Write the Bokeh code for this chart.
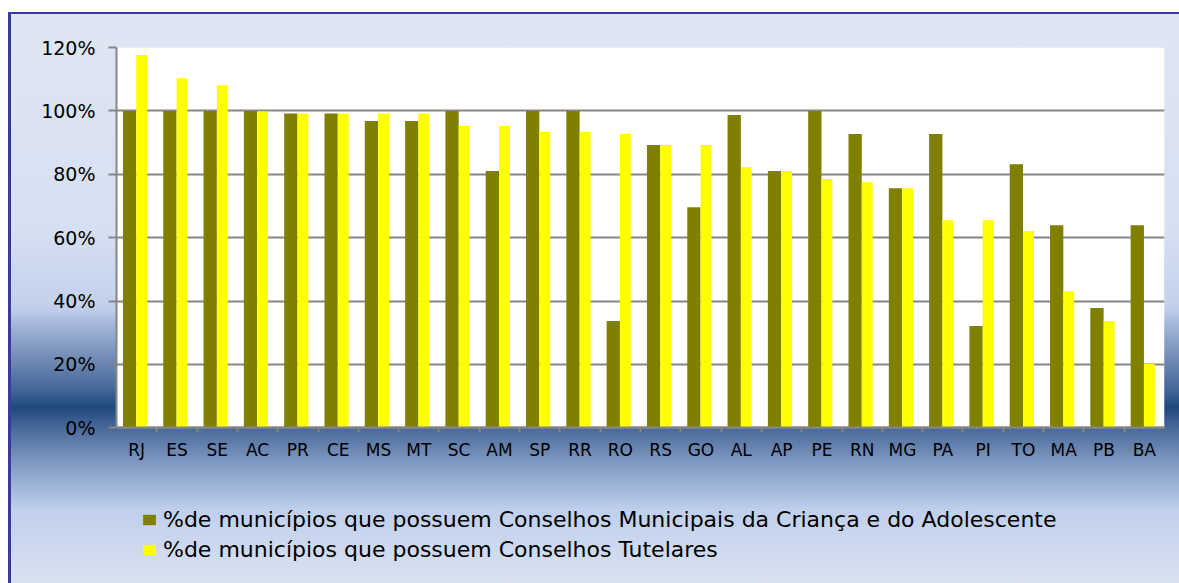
from bokeh.plotting import figure
from bokeh.models import (FactorRange, Range1d, CategoricalAxis, FixedTicker, BoxAnnotation,
                          PrintfTickFormatter, Legend, LegendItem, ColumnDataSource)
from bokeh.transform import dodge
from bokeh.embed import file_html
from bokeh.resources import INLINE

# ---------------- data ----------------
states = ["RJ", "ES", "SE", "AC", "PR", "CE", "MS", "MT", "SC", "AM", "SP", "RR", "RO",
          "RS", "GO", "AL", "AP", "PE", "RN", "MG", "PA", "PI", "TO", "MA", "PB", "BA"]
conselhos_municipais = [100, 100, 100, 100, 99.2, 99.2, 96.8, 96.8, 100, 81.0, 100, 100, 33.7,
                        89.2, 69.6, 98.7, 81.0, 100, 92.7, 75.6, 92.7, 32.1, 83.2, 63.9, 37.8, 63.9]
conselhos_tutelares = [117.6, 110.3, 108.1, 99.7, 99.2, 99.2, 99.2, 99.2, 95.2, 95.2, 93.3, 93.3, 92.7,
                       89.2, 89.2, 82.2, 81.0, 78.5, 77.5, 75.6, 65.5, 65.5, 62.1, 43.1, 33.7, 20.1]
y_ticks = [0, 20, 40, 60, 80, 100, 120]
label_cmdca = "%de municípios que possuem Conselhos Municipais da Criança e do Adolescente"
label_ct = "%de municípios que possuem Conselhos Tutelares"

source = ColumnDataSource(data=dict(state=states, cmdca=conselhos_municipais, ct=conselhos_tutelares))

FONT = "DejaVu Sans"
GRAY = "#868686"

# the frame extends below 0 so that the axes labels and the legend sit inside it
p = figure(x_range=FactorRange(factors=states), y_range=Range1d(-46.6, 120),
           width=1171, height=571, output_backend="svg", toolbar_location=None,
           x_axis_location=None,
           min_border_left=108, min_border_right=15, min_border_top=35, min_border_bottom=8,
           background_fill_alpha=0, border_fill_alpha=0, outline_line_color=None)
p.margin = (12, 0, 0, 8)
p.styles = {
    "background-image": "linear-gradient(to bottom, #dfe6f3 0%, #d7e0f2 38%, #c3d1ec 51%, "
                        "#bccbe9 52.5%, #a9bade 54.2%, #7890b8 60%, #46689a 65.9%, #1f497d 69.3%, "
                        "#4a6a9a 73%, #7a94bd 78.3%, #a9bde0 84.4%, #c0cfec 87.2%, #dae2f1 100%)",
    "box-shadow": "inset 3px 2px 0 0 #3a3a9e",
}

# white plot area from 0% to 120%
p.add_layout(BoxAnnotation(bottom=0, top=120, fill_color="white", fill_alpha=1,
                           line_color=None, level="image"))

r1 = p.vbar(x=dodge("state", -0.175, range=p.x_range), top="cmdca", width=0.33, bottom=0,
            source=source, fill_color="#808000", line_color=None)
r2 = p.vbar(x=dodge("state", 0.125, range=p.x_range), top="ct", width=0.27, bottom=0,
            source=source, fill_color="#FFFF00", line_color=None)

# y axis
p.yaxis.ticker = FixedTicker(ticks=y_ticks)
p.yaxis.bounds = (0, 120)
p.yaxis.formatter = PrintfTickFormatter(format="%d%%")
p.yaxis.major_label_text_font = FONT
p.yaxis.major_label_text_font_size = "19px"
p.yaxis.major_label_text_color = "#000000"
p.yaxis.axis_line_color = GRAY
p.yaxis.axis_line_width = 2
p.yaxis.major_tick_line_color = GRAY
p.yaxis.major_tick_line_width = 2
p.yaxis.major_tick_out = 8
p.yaxis.major_tick_in = 0
p.yaxis.minor_tick_line_color = None
p.yaxis.major_label_standoff = 13

p.ygrid.ticker = FixedTicker(ticks=y_ticks)
p.ygrid.grid_line_color = GRAY
p.ygrid.grid_line_width = 2
p.xgrid.visible = False

# x axis at 0%: ticks at the category boundaries (helper range shifted by half a category)
edge_names = ["|%d" % i for i in range(len(states) + 1)]
p.extra_x_ranges = {"edges": FactorRange(factors=edge_names, range_padding=-0.5,
                                         range_padding_units="absolute")}
tick_axis = CategoricalAxis(x_range_name="edges", fixed_location=0,
                            major_label_text_font_size="0px", major_label_text_alpha=0,
                            major_label_standoff=0, major_tick_out=5, major_tick_in=0,
                            major_tick_line_color=GRAY, major_tick_line_width=2,
                            axis_line_color=GRAY, axis_line_width=2)
p.add_layout(tick_axis, "below")
cat_axis = CategoricalAxis(fixed_location=0, axis_line_color=None, major_tick_line_color=None,
                           major_tick_out=0, major_tick_in=0, major_label_standoff=12,
                           major_label_text_font=FONT, major_label_text_font_size="17px",
                           major_label_text_color="#000000")
p.add_layout(cat_axis, "below")

legend = Legend(items=[LegendItem(label=label_cmdca, renderers=[r1]),
                       LegendItem(label=label_ct, renderers=[r2])],
                location=(25, 13), orientation="vertical",
                background_fill_alpha=0, border_line_color=None,
                padding=0, margin=0, spacing=5,
                glyph_width=16, glyph_height=13, label_standoff=6,
                label_text_font=FONT, label_text_font_size="22px", label_text_color="#000000")
p.add_layout(legend)

open("out.html", "w").write(file_html(p, INLINE))
